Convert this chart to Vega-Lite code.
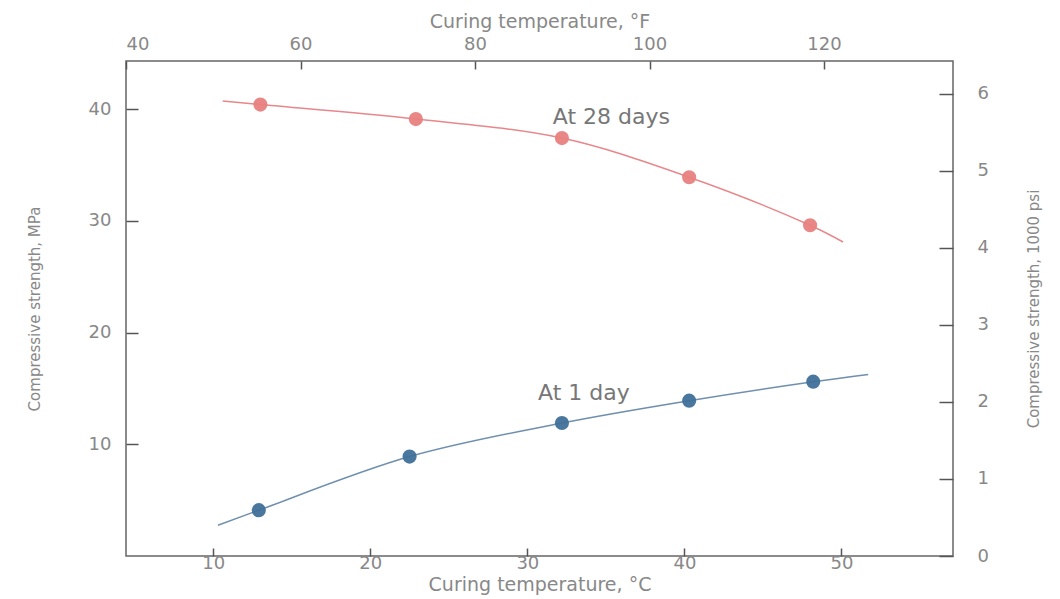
{
  "$schema": "https://vega.github.io/schema/vega-lite/v6.json",
  "width": 827,
  "height": 495,
  "autosize": {"type": "none"},
  "padding": {"left": 126, "top": 61, "right": 107, "bottom": 43},
  "background": "white",
  "config": {
    "view": {"stroke": "#666", "strokeWidth": 1.5},
    "font": "DejaVu Sans",
    "axis": {
      "grid": false,
      "domain": false,
      "labelColor": "#888",
      "titleColor": "#888",
      "labelFont": "DejaVu Sans",
      "titleFont": "DejaVu Sans",
      "titleFontWeight": "normal",
      "tickColor": "#555",
      "tickWidth": 1.5,
      "labelFontSize": 18,
      "titleFontSize": 21
    }
  },
  "datasets": {
    "curves": [
      {"series": "At 28 days", "temp_c": 10.6, "strength_mpa": 40.72},
      {"series": "At 28 days", "temp_c": 13.0, "strength_mpa": 40.4},
      {"series": "At 28 days", "temp_c": 22.9, "strength_mpa": 39.1},
      {"series": "At 28 days", "temp_c": 32.2, "strength_mpa": 37.4},
      {"series": "At 28 days", "temp_c": 40.3, "strength_mpa": 33.9},
      {"series": "At 28 days", "temp_c": 48.0, "strength_mpa": 29.6},
      {"series": "At 28 days", "temp_c": 50.1, "strength_mpa": 28.1},
      {"series": "At 1 day", "temp_c": 10.3, "strength_mpa": 2.75},
      {"series": "At 1 day", "temp_c": 12.9, "strength_mpa": 4.1},
      {"series": "At 1 day", "temp_c": 22.5, "strength_mpa": 8.9},
      {"series": "At 1 day", "temp_c": 32.2, "strength_mpa": 11.9},
      {"series": "At 1 day", "temp_c": 40.3, "strength_mpa": 13.9},
      {"series": "At 1 day", "temp_c": 48.2, "strength_mpa": 15.6},
      {"series": "At 1 day", "temp_c": 51.7, "strength_mpa": 16.25}
    ],
    "points": [
      {"series": "At 28 days", "temp_c": 13.0, "strength_mpa": 40.4},
      {"series": "At 28 days", "temp_c": 22.9, "strength_mpa": 39.1},
      {"series": "At 28 days", "temp_c": 32.2, "strength_mpa": 37.4},
      {"series": "At 28 days", "temp_c": 40.3, "strength_mpa": 33.9},
      {"series": "At 28 days", "temp_c": 48.0, "strength_mpa": 29.6},
      {"series": "At 1 day", "temp_c": 12.9, "strength_mpa": 4.1},
      {"series": "At 1 day", "temp_c": 22.5, "strength_mpa": 8.9},
      {"series": "At 1 day", "temp_c": 32.2, "strength_mpa": 11.9},
      {"series": "At 1 day", "temp_c": 40.3, "strength_mpa": 13.9},
      {"series": "At 1 day", "temp_c": 48.2, "strength_mpa": 15.6}
    ],
    "labels": [
      {"label": "At 28 days", "temp_c": 35.35, "strength_mpa": 39.3},
      {"label": "At 1 day", "temp_c": 33.6, "strength_mpa": 14.6}
    ]
  },
  "layer": [
    {
      "data": {"name": "curves"},
      "mark": {"type": "line", "interpolate": "catmull-rom", "strokeWidth": 1.5},
      "encoding": {
        "x": {
          "field": "temp_c", "type": "quantitative",
          "scale": {"domain": [4.444, 57.1], "nice": false, "zero": false},
          "axis": {"orient": "bottom", "values": [10, 20, 30, 40, 50], "tickSize": -8, "labelPadding": 6, "title": "Curing temperature, °C", "titleFontSize": 19, "titlePadding": 3}
        },
        "y": {
          "field": "strength_mpa", "type": "quantitative",
          "scale": {"domain": [0, 44.3], "nice": false, "zero": false},
          "axis": {"orient": "left", "values": [10, 20, 30, 40], "tickSize": -12, "labelPadding": 27, "title": "Compressive strength, MPa", "titleFontSize": 15, "titlePadding": 46}
        },
        "color": {
          "field": "series", "type": "nominal",
          "scale": {"domain": ["At 28 days", "At 1 day"], "range": ["#e8878b", "#6f8fae"]},
          "legend": null
        },
        "detail": {"field": "series"}
      }
    },
    {
      "data": {"name": "points"},
      "mark": {"type": "point", "filled": true, "size": 200, "opacity": 0.95},
      "encoding": {
        "x": {"field": "temp_c", "type": "quantitative", "scale": {"domain": [4.444, 57.1], "nice": false, "zero": false}, "axis": null},
        "y": {"field": "strength_mpa", "type": "quantitative", "scale": {"domain": [0, 44.3], "nice": false, "zero": false}, "axis": null},
        "color": {
          "field": "series", "type": "nominal",
          "scale": {"domain": ["At 28 days", "At 1 day"], "range": ["#e8817f", "#3f7099"]},
          "legend": null
        }
      }
    },
    {
      "data": {"name": "labels"},
      "mark": {"type": "text", "fontSize": 22, "color": "#777", "align": "center", "baseline": "middle", "font": "DejaVu Sans"},
      "encoding": {
        "x": {"field": "temp_c", "type": "quantitative", "scale": {"domain": [4.444, 57.1], "nice": false, "zero": false}, "axis": null},
        "y": {"field": "strength_mpa", "type": "quantitative", "scale": {"domain": [0, 44.3], "nice": false, "zero": false}, "axis": null},
        "text": {"field": "label"}
      }
    },
    {
      "data": {"name": "points"},
      "mark": {"type": "point", "opacity": 0},
      "encoding": {
        "x": {
          "field": "temp_c", "type": "quantitative",
          "scale": {"domain": [4.444, 57.1], "nice": false, "zero": false},
          "axis": {"orient": "top", "values": [4.444, 15.556, 26.667, 37.778, 48.889], "labelExpr": "format(datum.value * 1.8 + 32, '.0f')", "tickSize": -8, "labelPadding": 16, "title": "Curing temperature, °F", "titleFontSize": 19, "titlePadding": 4}
        },
        "y": {
          "field": "strength_mpa", "type": "quantitative",
          "scale": {"domain": [0, 44.3], "nice": false, "zero": false},
          "axis": {"orient": "right", "values": [0, 6.895, 13.79, 20.685, 27.58, 34.475, 41.37], "labelExpr": "format(datum.value / 6.895, '.0f')", "tickSize": -14, "labelPadding": 38, "title": "Compressive strength, 1000 psi", "titleAngle": 270, "titleFontSize": 15, "titlePadding": 53}
        }
      }
    }
  ],
  "resolve": {"axis": {"x": "independent", "y": "independent"}, "scale": {"color": "independent"}}
}
